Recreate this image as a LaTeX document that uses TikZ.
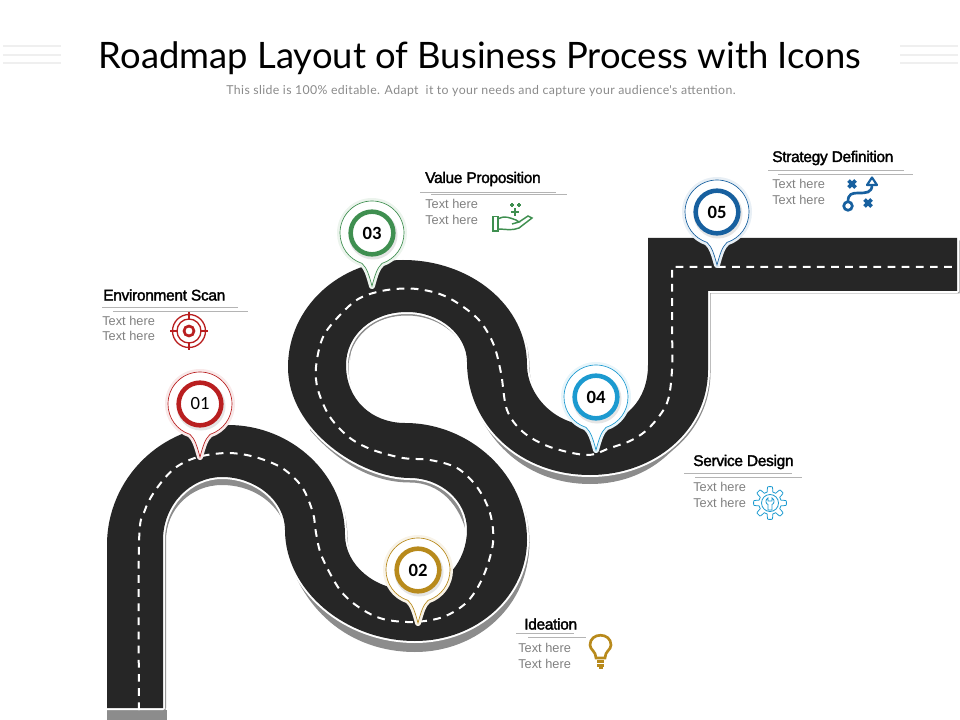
\documentclass[tikz,border=0pt]{standalone}
\usepackage{fontspec}
\setmainfont{Liberation Sans}
\newfontfamily\titlefont{Lato}
\newfontfamily\subfont[LetterSpace=3]{Lato}
\newfontfamily\headfont[FakeBold=2,LetterSpace=-2]{Liberation Sans}
\newfontfamily\numfont{Carlito}
\definecolor{roadgrey}{HTML}{262626}
\definecolor{edgegrey}{HTML}{8C8C8C}
\definecolor{textgrey}{HTML}{808080}
\definecolor{subgrey}{HTML}{8A8A8A}
\definecolor{rulegrey}{HTML}{B4B4B4}
\definecolor{barpale}{HTML}{EFEFEF}
\definecolor{pinred}{HTML}{B91F20}
\definecolor{pingold}{HTML}{B88A1C}
\definecolor{pingreen}{HTML}{3F8F50}
\definecolor{pinsky}{HTML}{1C9AD0}
\definecolor{pinblue}{HTML}{17609F}
% outline of the road, pixel coordinates
\newcommand{\roadpath}{(107,708) -- (107,545) .. controls (107,479) and (161,425) .. (228,425)
  .. controls (292,425) and (345,475) .. (345,535)
  .. controls (345,565) and (375,590) .. (410,590)
  .. controls (445,590) and (467,560) .. (467,530)
  .. controls (467,500) and (440,478) .. (410,478)
  .. controls (360,478) and (288,430) .. (288,367)
  .. controls (288,307) and (340,260) .. (403,260)
  .. controls (470,260) and (527,305) .. (527,365)
  .. controls (527,395) and (555,425) .. (590,425)
  .. controls (625,425) and (648,400) .. (648,365)
  -- (648,238) -- (957,238) -- (957,291) -- (708,291) -- (708,370)
  .. controls (708,430) and (655,475) .. (590,475)
  .. controls (520,475) and (467,425) .. (467,362)
  .. controls (467,335) and (440,312) .. (407,312)
  .. controls (372,312) and (346,335) .. (346,365)
  .. controls (346,400) and (372,423) .. (405,423)
  .. controls (470,423) and (527,475) .. (527,540)
  .. controls (527,595) and (478,641) .. (415,641)
  .. controls (345,641) and (285,590) .. (285,530)
  .. controls (285,500) and (255,477) .. (222,477)
  .. controls (190,477) and (163,505) .. (163,540)
  -- (163,708) -- cycle}
\newcommand{\bubblepath}{(0,53) .. controls (3,42) and (5,35) .. (10,30.4)
  .. controls (23.2,26.1) and (32,13.9) .. (32,0)
  .. controls (32,-17.7) and (17.7,-32) .. (0,-32)
  .. controls (-17.7,-32) and (-32,-17.7) .. (-32,0)
  .. controls (-32,13.9) and (-23.2,26.1) .. (-10,30.4)
  .. controls (-5,35) and (-3,42) .. (0,53) -- cycle}
% #1 x, #2 y, #3 colour
\newcommand{\pinbubble}[3]{
  \begin{scope}[shift={(#1,#2)}]
    \draw[#3!10, line width=4.5pt, line join=round] \bubblepath;
    \draw[#3, fill=white, line width=.5pt] \bubblepath;
    \fill[black!10] (1,2) circle (24.5);
  \end{scope}
}
\begin{document}
\begin{tikzpicture}[x=.75pt, y=-.75pt,
    titletext/.style = {font=\titlefont\fontsize{27.3}{32}\selectfont, text=black},
    subtext/.style = {font=\subfont\fontsize{9.23}{11}\selectfont, text=subgrey},
    head/.style = {font=\headfont\fontsize{11.6}{13}\selectfont, text=black, anchor=west, inner sep=0pt},
    bodytext/.style = {font=\fontsize{9.6}{12}\selectfont, text=textgrey, anchor=west, inner sep=0pt},
    pinring/.style = {circle, draw=#1, line width=3.4pt, fill=white, minimum size=32pt, inner sep=0pt, text=black, font=\numfont\bfseries\fontsize{14}{14}\selectfont},
    rule/.style = {rulegrey, line width=.5pt},
    bar/.style = {barpale, line width=2.2pt},
    dashline/.style = {white, line width=1.5pt, dash pattern=on 5.8pt off 4.8pt}]
  \useasboundingbox (0,0) rectangle (960,720);

  % title
  \node[titletext] (title) at (480,58) {Roadmap Layout of Business Process with Icons};
  \node[subtext] (subtitle) at (481,91) {This slide is 100\% editable. Adapt\ \ it to your needs and capture your audience's attention.};
  \draw[bar] (3,46) -- (61,46);
  \draw[bar] (3,55) -- (61,55);
  \draw[bar] (3,63) -- (61,63);
  \draw[bar] (900,46) -- (958,46);
  \draw[bar] (900,55) -- (958,55);
  \draw[bar] (900,63) -- (958,63);

  % road edge
  \fill[edgegrey, shift={(2.5,2.5)}] \roadpath;
  \fill[edgegrey] (107,710) rectangle (167,720);
  \fill[edgegrey] (710,340) .. controls (710,436) and (655,484) .. (590,484) .. controls (530,484) and (480,445) .. (466,375) -- (497,380) .. controls (505,430) and (550,450) .. (590,450) .. controls (640,450) and (678,410) .. (678,340) -- cycle;
  \fill[edgegrey] (529,545) .. controls (529,605) and (478,652) .. (415,652) .. controls (350,652) and (298,610) .. (284,540) -- (315,530) .. controls (315,580) and (360,616) .. (415,616) .. controls (465,616) and (497,580) .. (497,530) -- cycle;
  \fill[edgegrey] (166,708) -- (166,540) .. controls (166,510) and (190,485) .. (222,485) .. controls (250,485) and (275,500) .. (285,525) -- (285,470) -- (163,470) -- (163,708) -- cycle;
  \fill[edgegrey] (350,360) .. controls (350,335) and (375,315.5) .. (407,315.5) .. controls (437,315.5) and (462,335) .. (466,355) -- (466,300) -- (346,300) -- cycle;
  \fill[edgegrey] (467,535) .. controls (460,505) and (440,482.5) .. (410,482.5) .. controls (375,482.5) and (340,465) .. (310,430) -- (310,400) -- (467,470) -- cycle;
  % road
  \draw[white, line width=3pt, line join=round, fill=white] \roadpath;
  \fill[roadgrey] \roadpath;
  \draw[dashline] plot[smooth, tension=.55] coordinates {(139,710) (139,543) (145,510) (157,488) (175,468) (198,457) (228,453) (255,457) (282,468) (302,487) (313,513) (316,533) (322,557) (340,590) (360,608) (383,619) (413,622) (443,617) (467,602) (483,577) (493,543) (490,513) (477,487) (457,468) (430,460) (403,458) (373,450) (350,438) (330,417) (318,390) (316,367) (323,337) (340,315) (360,298) (387,290) (417,289) (447,297) (477,318) (493,343) (501,373) (507,410) (523,432) (550,447) (587,455) (610,448) (632,440) (650,427) (667,403) (672,370) (672,330)} -- (672,267) -- (955,267);

  % pins
  \pinbubble{200}{404}{pinred}
  \pinbubble{418}{570}{pingold}
  \pinbubble{372}{233}{pingreen}
  \pinbubble{596}{397}{pinsky}
  \pinbubble{717}{212}{pinblue}
  \node[pinring=pinred, font=\numfont\fontsize{14}{14}\selectfont] (pin1) at (200,404) {01};
  \node[pinring=pingold] (pin2) at (418,570) {02};
  \node[pinring=pingreen] (pin3) at (372,233) {03};
  \node[pinring=pinsky] (pin4) at (596,397) {04};
  \node[pinring=pinblue] (pin5) at (717,212) {05};

  % environment scan
  \node[head] (envhead) at (103,295) {Environment Scan};
  \draw[rule] (102,307) -- (238,307);
  \draw[rule] (113,311) -- (248,311);
  \node[bodytext] (envtext1) at (102,321) {Text here};
  \node[bodytext] (envtext2) at (102,336) {Text here};
  \draw[pinred, line width=1pt] (189,331) circle (16.5) circle (12);
  \draw[pinred, line width=2pt] (189,331) circle (5);
  \draw[pinred, line width=1.1pt] (189,312) -- (189,320) (189,342) -- (189,350) (170,331) -- (178,331) (200,331) -- (208,331);

  % ideation
  \node[head] (ideahead) at (524,624) {Ideation};
  \draw[rule] (516,633) -- (574,633);
  \draw[rule] (528,637) -- (586,637);
  \node[bodytext] (ideatext1) at (518,648) {Text here};
  \node[bodytext] (ideatext2) at (518,664) {Text here};
  \draw[pingold, line width=2pt] (596,658) .. controls (596,651) and (590,650) .. (590,645) .. controls (590,632) and (611,632) .. (611,645) .. controls (611,650) and (605,651) .. (605,658) -- cycle;
  \fill[pingold] (597,660) rectangle (604,663);
  \fill[pingold] (597,664) rectangle (604,667);
  \fill[pingold] (598.5,667) rectangle (602.5,669);

  % value proposition
  \node[head] (valuehead) at (425,179) {Value Proposition};
  \draw[rule] (420,192) -- (556,192);
  \draw[rule] (431,194) -- (567,194);
  \node[bodytext] (valuetext1) at (425,204) {Text here};
  \node[bodytext] (valuetext2) at (425,220) {Text here};
  \draw[pingreen, line width=1.2pt] (493,216.5) rectangle (498,231);
  \draw[pingreen, line width=1.1pt] (498,219) .. controls (505,215) and (510,218) .. (516,220) -- (519,222) -- (512,224) (519,222) -- (528,216) -- (532,218) -- (519,228) .. controls (512,231) and (505,229) .. (498,229);
  \draw[pingreen, line width=.9pt] (510,205) -- (514,205) (512,203) -- (512,207) (517,205) -- (521,205) (519,203) -- (519,207);
  \draw[pingreen, line width=1.2pt] (511,212) -- (519,212) (515,208.5) -- (515,216);

  % service design
  \node[head] (servicehead) at (693,462) {Service Design};
  \draw[rule] (684,473) -- (792,473);
  \draw[rule] (695,477) -- (802,477);
  \node[bodytext] (servicetext1) at (693,487) {Text here};
  \node[bodytext] (servicetext2) at (693,503) {Text here};
  \begin{scope}[shift={(770,503)}]
    \draw[pinsky, line width=.6pt] plot[samples=161, domain=0:360] (\x:{13.8+2.6*max(-1,min(1,2.5*cos(8*\x)))}) -- cycle;
    \draw[pinsky, line width=.6pt] (0,0) circle (8.5);
    \draw[pinsky, line width=.6pt] (-2,-5) .. controls (-5.5,-3) and (-4,1) .. (-2,1.5) -- (-2,7) -- (2,7) -- (2,1.5) .. controls (4,1) and (5.5,-3) .. (2,-5) -- (2,-2) -- (-2,-2) -- cycle;
  \end{scope}

  % strategy definition
  \node[head] (strategyhead) at (772,158) {Strategy Definition};
  \draw[rule] (768,170) -- (904,170);
  \draw[rule] (778,174) -- (913,174);
  \node[bodytext] (strategytext1) at (772,184) {Text here};
  \node[bodytext] (strategytext2) at (772,200) {Text here};
  \draw[pinblue, line width=2pt] (848,206) circle (4.3);
  \draw[pinblue, line width=2pt] (848,201.5) .. controls (848,194) and (852,193) .. (858,193) .. controls (866,193) and (872,193) .. (872,185);
  \draw[pinblue, line width=1.6pt, line join=round] (872,177.5) -- (867,185) -- (877,185) -- cycle;
  \draw[pinblue, line width=2.8pt] (848.5,180.5) -- (855.5,187.5) (855.5,180.5) -- (848.5,187.5);
  \draw[pinblue, line width=2.8pt] (864.5,199.5) -- (871.5,206.5) (871.5,199.5) -- (864.5,206.5);
\end{tikzpicture}
\end{document}
